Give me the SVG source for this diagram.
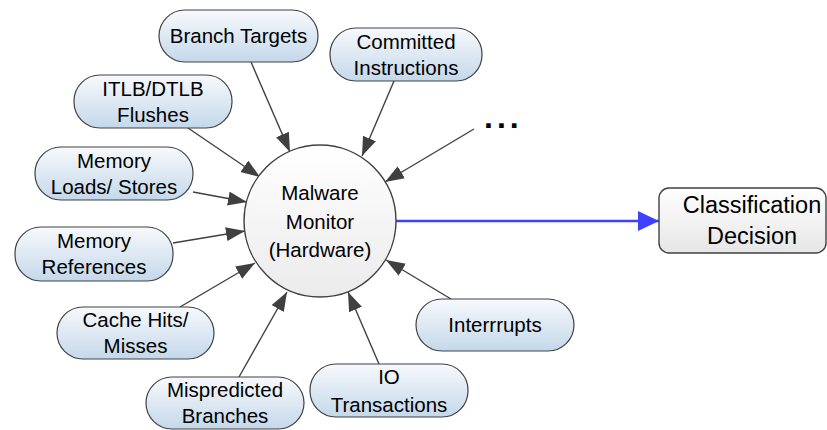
<svg xmlns="http://www.w3.org/2000/svg" width="827" height="430" viewBox="0 0 827 430">
<defs>
<linearGradient id="gNode" x1="0" y1="0" x2="0" y2="1">
<stop offset="0" stop-color="#f7f9fc"/>
<stop offset="1" stop-color="#c4d8ea"/>
</linearGradient>
<linearGradient id="gCirc" x1="0" y1="0" x2="0" y2="1">
<stop offset="0" stop-color="#ffffff"/>
<stop offset="1" stop-color="#ebebeb"/>
</linearGradient>
<linearGradient id="gBox" x1="0" y1="0" x2="0" y2="1">
<stop offset="0" stop-color="#ffffff"/>
<stop offset="1" stop-color="#e6e6e6"/>
</linearGradient>
<marker id="ah" markerUnits="userSpaceOnUse" markerWidth="20" markerHeight="16" refX="19" refY="7" orient="auto">
<path d="M0,0 L19,7 L0,14 Z" fill="#404040"/>
</marker>
<marker id="ahb" markerUnits="userSpaceOnUse" markerWidth="22" markerHeight="22" refX="21" refY="10" orient="auto">
<path d="M0,0 L21,10 L0,20 Z" fill="#4040ff"/>
</marker>
</defs>
<style>
.n{fill:url(#gNode);stroke:#404040;stroke-width:1.2}
.t{font-family:"Liberation Sans",Arial,sans-serif;font-size:20.5px;fill:#000;text-anchor:middle}
.tb{font-family:"Liberation Sans",Arial,sans-serif;font-size:23.5px;fill:#000;text-anchor:middle}
.c{stroke:#404040;stroke-width:1.4;fill:none;marker-end:url(#ah)}
</style>
<rect width="827" height="430" fill="#ffffff"/>
<g id="connectors">
<line class="c" x1="251" y1="62" x2="290" y2="152"/>
<line class="c" x1="394" y1="81" x2="362" y2="156"/>
<line class="c" x1="188" y1="128" x2="260" y2="177"/>
<line class="c" x1="193" y1="192" x2="247" y2="202"/>
<line class="c" x1="474" y1="129" x2="385" y2="182"/>
<line class="c" x1="173" y1="243" x2="245" y2="231"/>
<line class="c" x1="180" y1="307" x2="255" y2="263"/>
<line class="c" x1="239" y1="377" x2="287" y2="292"/>
<line class="c" x1="379" y1="364" x2="348" y2="292"/>
<line class="c" x1="451" y1="299" x2="386" y2="260"/>
<line x1="396" y1="221" x2="659" y2="221" stroke="#4040ff" stroke-width="2.5" marker-end="url(#ahb)"/>
</g>
<g id="monitor">
<circle cx="320" cy="221" r="76" fill="url(#gCirc)" stroke="#404040" stroke-width="1.4"/>
<text class="t" x="320" y="200">Malware</text>
<text class="t" x="320" y="228.5">Monitor</text>
<text class="t" x="320" y="257">(Hardware)</text>
</g>
<g id="branch-targets">
<rect class="n" x="159" y="10" width="159" height="52" rx="26"/>
<text class="t" x="238.5" y="43">Branch Targets</text>
</g>
<g id="committed-instructions">
<rect class="n" x="330" y="28" width="152" height="53" rx="26"/>
<text class="t" x="406" y="49">Committed</text>
<text class="t" x="406" y="75">Instructions</text>
</g>
<g id="tlb-flushes">
<rect class="n" x="74" y="75" width="158" height="53" rx="26"/>
<text class="t" x="153" y="95.5">ITLB/DTLB</text>
<text class="t" x="153" y="121.5">Flushes</text>
</g>
<g id="memory-loads-stores">
<rect class="n" x="35" y="147" width="158" height="53" rx="26"/>
<text class="t" x="114" y="167.5">Memory</text>
<text class="t" x="114" y="194">Loads/ Stores</text>
</g>
<g id="memory-references">
<rect class="n" x="15" y="227" width="158" height="54" rx="26"/>
<text class="t" x="94" y="248">Memory</text>
<text class="t" x="94" y="274">References</text>
</g>
<g id="cache-hits-misses">
<rect class="n" x="57" y="307" width="157" height="52" rx="26"/>
<text class="t" x="135.5" y="327">Cache Hits/</text>
<text class="t" x="135.5" y="353">Misses</text>
</g>
<g id="mispredicted-branches">
<rect class="n" x="146" y="377" width="158" height="52" rx="26"/>
<text class="t" x="225" y="397">Mispredicted</text>
<text class="t" x="225" y="423">Branches</text>
</g>
<g id="io-transactions">
<rect class="n" x="310" y="364" width="158" height="53" rx="26"/>
<text class="t" x="389" y="384">IO</text>
<text class="t" x="389" y="411.5">Transactions</text>
</g>
<g id="interrupts">
<rect class="n" x="416" y="299" width="158" height="52" rx="26"/>
<text class="t" x="495" y="332">Interrrupts</text>
</g>
<g id="more">
<text x="484" y="128" font-family="Liberation Sans, Arial, sans-serif" font-size="32" font-weight="bold" letter-spacing="4" fill="#000">...</text>
</g>
<g id="classification-decision">
<rect x="659" y="188" width="167" height="65" rx="10" fill="url(#gBox)" stroke="#404040" stroke-width="1.4"/>
<text class="tb" x="752" y="213">Classification</text>
<text class="tb" x="752" y="244">Decision</text>
</g>
</svg>
